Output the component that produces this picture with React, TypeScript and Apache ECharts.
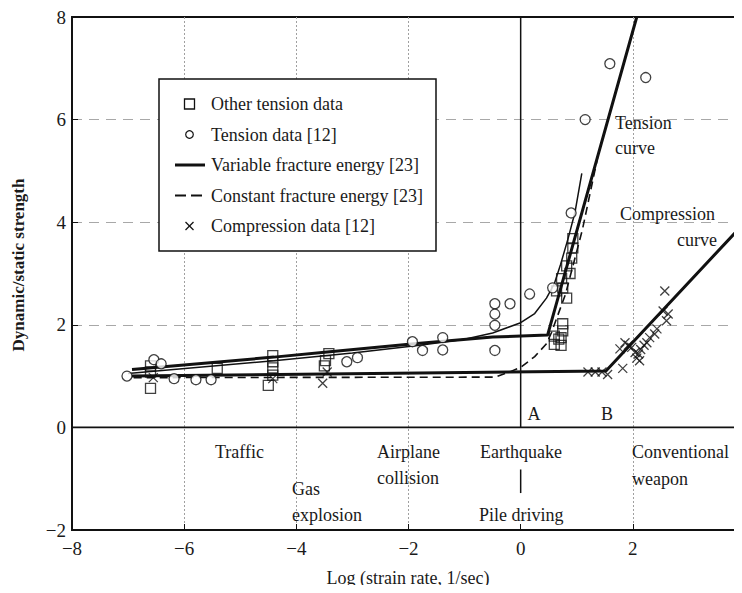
import React, { useEffect, useRef } from "react";
import * as echarts from "echarts";

// ---------- data (log strain rate, dynamic/static strength) ----------
const otherTensionData: [number, number][] = [
  [-6.6, 1.2], [-6.6, 1.08], [-6.6, 0.76], [-5.41, 1.15],
  [-4.42, 1.4], [-4.42, 1.28], [-4.42, 1.16], [-4.42, 1.02], [-4.5, 0.82],
  [-3.42, 1.44], [-3.48, 1.3], [-3.5, 1.2],
  [0.6, 1.62], [0.6, 1.78], [0.72, 1.6], [0.72, 1.75], [0.68, 1.72], [0.75, 1.88], [0.75, 2.02],
  [0.64, 2.66], [0.73, 2.9], [0.82, 2.52], [0.75, 2.72], [0.82, 3.15], [0.88, 3.0],
  [0.91, 3.3], [0.93, 3.5], [0.93, 3.68],
];

const tensionData: [number, number][] = [
  [-7.02, 1.0], [-6.54, 1.32], [-6.41, 1.24], [-6.18, 0.95], [-5.79, 0.93], [-5.52, 0.93],
  [-3.1, 1.28], [-2.91, 1.36], [-1.93, 1.67], [-1.75, 1.5], [-1.39, 1.75], [-1.39, 1.51],
  [-0.46, 2.41], [-0.46, 2.21], [-0.46, 1.99], [-0.46, 1.5], [-0.19, 2.41], [0.16, 2.6],
  [0.57, 2.72], [0.9, 4.18], [1.15, 6.0], [1.59, 7.09], [2.23, 6.82],
];

const compressionData: [number, number][] = [
  [-6.55, 0.97], [-4.42, 0.95], [-3.53, 0.86], [-3.45, 1.08],
  [1.2, 1.08], [1.33, 1.08], [1.45, 1.08], [1.55, 1.03], [1.82, 1.15],
  [1.77, 1.53], [1.86, 1.65], [1.92, 1.6], [1.98, 1.56], [2.04, 1.46], [2.07, 1.35],
  [2.12, 1.3], [2.1, 1.43], [2.14, 1.52], [2.2, 1.6], [2.25, 1.65], [2.3, 1.75],
  [2.39, 1.82], [2.43, 1.92], [2.54, 2.27], [2.6, 2.08], [2.63, 2.21], [2.57, 2.66],
];

const variableTensionCurve: [number, number][] = [
  [-6.93, 1.13], [-4.4, 1.37], [-3.45, 1.47], [-1.9, 1.63], [-0.5, 1.76], [0.48, 1.8], [2.07, 8.0],
];

const variableCompressionCurve: [number, number][] = [
  [-6.93, 1.0], [-1.8, 1.06], [1.52, 1.1], [4.0, 4.0],
];

const thinCurve: [number, number][] = [
  [-7.0, 1.05], [-4.4, 1.3], [-3.0, 1.45], [-1.8, 1.6], [-1.0, 1.72], [-0.5, 1.84],
  [0.0, 2.04], [0.25, 2.22], [0.46, 2.52], [0.6, 2.8], [0.71, 3.17], [0.85, 3.7],
  [0.97, 4.2], [1.09, 4.95],
];

const constantEnergyCurve: [number, number][] = [
  [-6.9, 0.97], [-0.45, 0.98], [-0.2, 1.08], [0.0, 1.17], [0.25, 1.38], [0.46, 1.63],
  [0.55, 1.85], [0.8, 2.6], [1.1, 3.85], [1.37, 5.25],
];

const zeroLineH: [number, number][] = [[-8, 0], [4, 0]];
const zeroLineV: [number, number][] = [[0, 0], [0, 8]];
const pileTick: [number, number][] = [[0, -0.82], [0, -1.28]];

const legendLabels = [
  "Other tension data",
  "Tension data [12]",
  "Variable fracture energy [23]",
  "Constant fracture energy [23]",
  "Compression data [12]",
];

const FONT = "'Liberation Serif', 'Times New Roman', serif";
const CROSS = "path://M0,0L10,10M10,0L0,10";

export default function App() {
  const ref = useRef<HTMLDivElement>(null);

  useEffect(() => {
    if (!ref.current) return;
    const chart = echarts.init(ref.current, undefined, { renderer: "svg" });

    const txt = (text: string, x: number, y: number, align = "left", size = 18) => ({
      type: "text",
      x,
      y,
      z: 100,
      style: {
        text,
        fill: "#1a1a1a",
        font: `${size}px ${FONT}`,
        textAlign: align,
        textVerticalAlign: "middle",
      },
    });

    const legendRowY = [104, 134.5, 165, 195.5, 226];
    const legendGraphics: any[] = [
      {
        type: "rect",
        z: 90,
        shape: { x: 159, y: 79, width: 277, height: 172 },
        style: { fill: "#fff", stroke: "#111", lineWidth: 1.5 },
      },
      {
        type: "rect",
        z: 100,
        shape: { x: 184.5, y: legendRowY[0] - 5, width: 10, height: 10 },
        style: { fill: "none", stroke: "#111", lineWidth: 1.3 },
      },
      {
        type: "circle",
        z: 100,
        shape: { cx: 189.5, cy: legendRowY[1], r: 3.8 },
        style: { fill: "none", stroke: "#111", lineWidth: 1.2 },
      },
      {
        type: "line",
        z: 100,
        shape: { x1: 175, y1: legendRowY[2], x2: 205, y2: legendRowY[2] },
        style: { stroke: "#111", lineWidth: 3 },
      },
      {
        type: "line",
        z: 100,
        shape: { x1: 175, y1: legendRowY[3], x2: 205, y2: legendRowY[3] },
        style: { stroke: "#111", lineWidth: 2, lineDash: [11, 5] },
      },
      {
        type: "line",
        z: 100,
        shape: { x1: 185.5, y1: legendRowY[4] - 4, x2: 193.5, y2: legendRowY[4] + 4 },
        style: { stroke: "#111", lineWidth: 1.2 },
      },
      {
        type: "line",
        z: 100,
        shape: { x1: 193.5, y1: legendRowY[4] - 4, x2: 185.5, y2: legendRowY[4] + 4 },
        style: { stroke: "#111", lineWidth: 1.2 },
      },
      ...legendLabels.map((l, i) => txt(l, 211, legendRowY[i], "left", 18)),
    ];

    const annotations: any[] = [
      txt("Tension", 615, 123),
      txt("curve", 615, 148),
      txt("Compression", 620, 214),
      txt("curve", 717, 240, "right"),
      txt("A", 534, 414, "center"),
      txt("B", 607, 414, "center"),
      txt("Traffic", 215, 452),
      txt("Airplane", 377, 452),
      txt("collision", 377, 478),
      txt("Earthquake", 480, 452),
      txt("Gas", 292, 489),
      txt("explosion", 292, 515),
      txt("Pile driving", 479, 515),
      txt("Conventional", 632, 452),
      txt("weapon", 632, 479),
      {
        type: "text",
        x: 408,
        y: 578,
        style: {
          text: "Log (strain rate, 1/sec)",
          fill: "#1a1a1a",
          font: `18px ${FONT}`,
          textAlign: "center",
          textVerticalAlign: "middle",
        },
      },
      {
        type: "text",
        x: 18,
        y: 265,
        rotation: Math.PI / 2,
        style: {
          text: "Dynamic/static strength",
          fill: "#1a1a1a",
          font: `bold 17px ${FONT}`,
          textAlign: "center",
          textVerticalAlign: "middle",
        },
      },
    ];

    const lineSeries = (data: [number, number][], width: number, type: any = "solid") => ({
      type: "line",
      data,
      showSymbol: false,
      symbol: "none",
      silent: true,
      z: 3,
      lineStyle: { color: "#111", width, type },
    });

    const minus = (v: number) => String(v).replace("-", "\u2212");

    chart.setOption({
      animation: false,
      backgroundColor: "#fff",
      grid: {
        left: 72,
        top: 17,
        width: 673,
        height: 513,
        containLabel: false,
        outerBoundsMode: "none",
        show: true,
        borderColor: "#111",
        borderWidth: 1.8,
        backgroundColor: "transparent",
      },
      xAxis: {
        type: "value",
        min: -8,
        max: 4,
        interval: 2,
        axisLine: { show: true, onZero: false, lineStyle: { color: "#111", width: 1.8 } },
        axisTick: { show: true, inside: true, length: 6, lineStyle: { color: "#111" } },
        axisLabel: {
          margin: 9,
          fontSize: 19,
          fontFamily: FONT,
          color: "#1a1a1a",
          formatter: (v: number) => (v >= 4 ? "" : minus(v)),
        },
        splitLine: {
          show: true,
          lineStyle: {
            color: ["transparent", "#a0a0a0", "#a0a0a0", "#a0a0a0", "transparent", "#a0a0a0", "transparent"],
            width: 1,
            type: [2, 2],
          },
        },
      },
      yAxis: {
        type: "value",
        min: -2,
        max: 8,
        interval: 2,
        axisLine: { show: true, onZero: false, lineStyle: { color: "#111", width: 1.8 } },
        axisTick: { show: true, inside: true, length: 6, lineStyle: { color: "#111" } },
        axisLabel: {
          margin: 6,
          fontSize: 19,
          fontFamily: FONT,
          color: "#1a1a1a",
          formatter: (v: number) => minus(v),
        },
        splitLine: {
          show: true,
          lineStyle: {
            color: ["transparent", "transparent", "#a8a8a8", "#a8a8a8", "#a8a8a8", "transparent"],
            width: 1.2,
            type: [10, 7],
          },
        },
      },
      series: [
        lineSeries(zeroLineH, 1.8),
        lineSeries(zeroLineV, 1.5),
        lineSeries(pileTick, 1.5),
        lineSeries(constantEnergyCurve, 1.6, [8, 5]),
        lineSeries(thinCurve, 1.5),
        lineSeries(variableTensionCurve, 3),
        lineSeries(variableCompressionCurve, 3),
        {
          name: "Other tension data",
          type: "scatter",
          data: otherTensionData,
          symbol: "rect",
          symbolSize: 10,
          z: 5,
          itemStyle: { color: "rgba(0,0,0,0)", borderColor: "#111", borderWidth: 1.3 },
        },
        {
          name: "Tension data [12]",
          type: "scatter",
          data: tensionData,
          symbol: "circle",
          symbolSize: 10,
          z: 5,
          itemStyle: { color: "#fff", borderColor: "#111", borderWidth: 1.3 },
        },
        {
          name: "Compression data [12]",
          type: "scatter",
          data: compressionData,
          symbol: CROSS,
          symbolSize: 9,
          z: 5,
          itemStyle: { color: "rgba(0,0,0,0)", borderColor: "#111", borderWidth: 1.3 },
        },
      ],
      graphic: [...legendGraphics, ...annotations],
    });

    return () => chart.dispose();
  }, []);

  return <div ref={ref} style={{ width: 742, height: 593, margin: -8 }} />;
}
